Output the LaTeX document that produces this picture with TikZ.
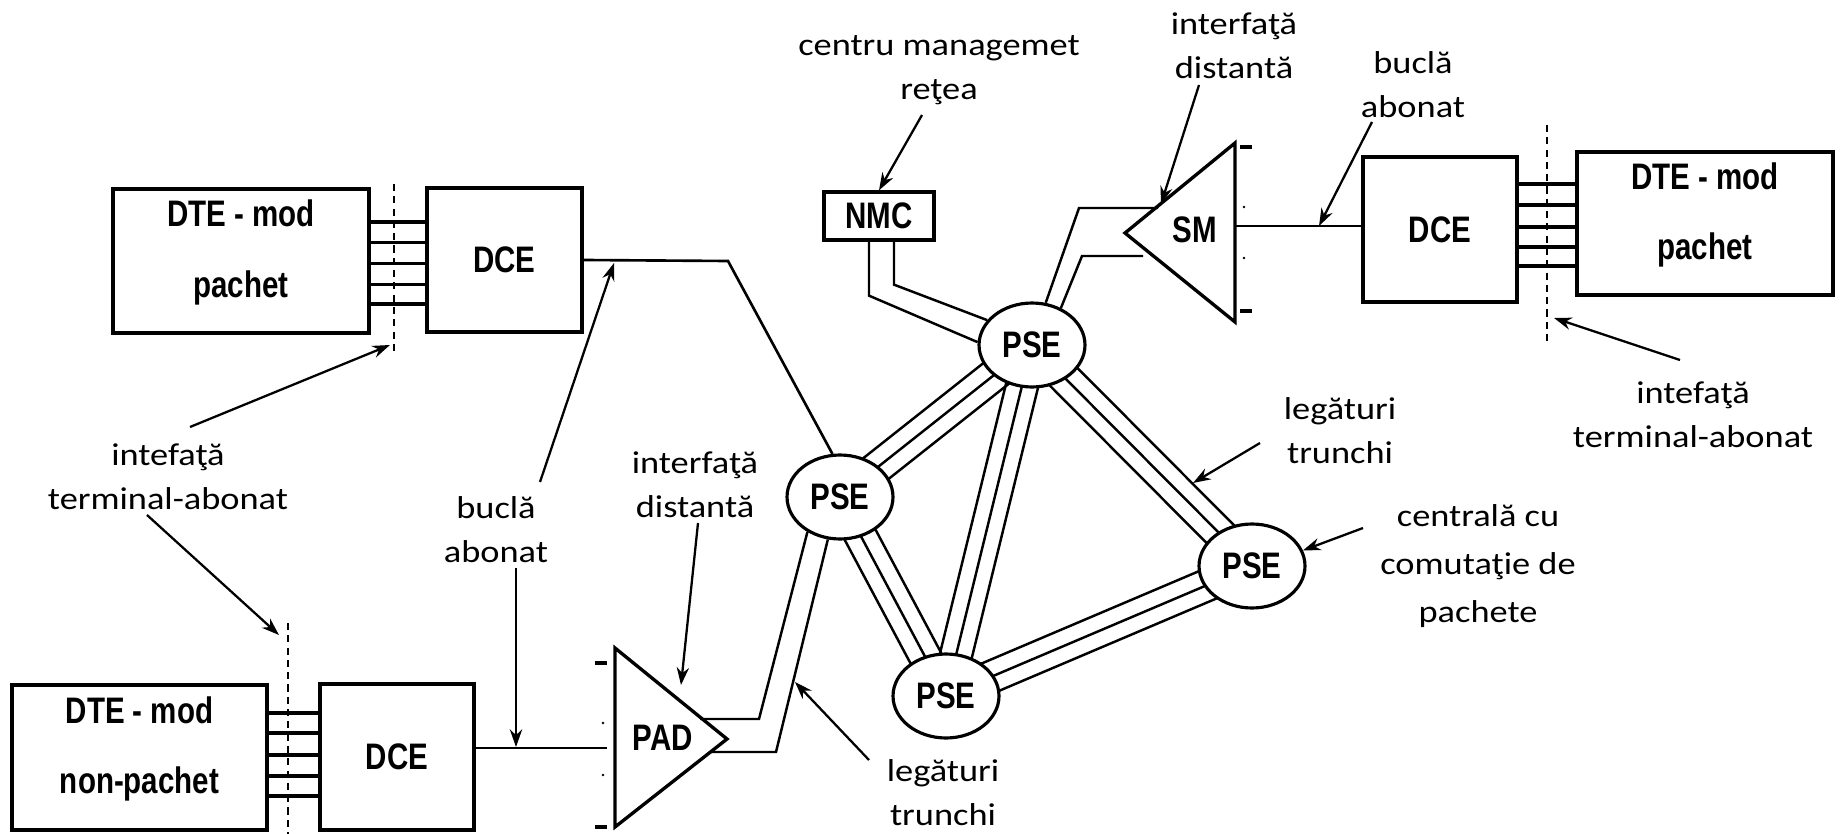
\documentclass[tikz,border=0pt]{standalone}
\usepackage{fontspec}
\setmainfont{Carlito}[FakeStretch=1.15]
\newfontfamily\unitfont{Liberation Sans}[FakeStretch=0.8]
\usetikzlibrary{shapes.geometric,arrows.meta,calc,backgrounds}

\tikzset{
  unit/.style={draw, line width=1.9pt, align=center, inner sep=0pt,
    font=\unitfont\bfseries\fontsize{21}{40}\selectfont},
  pse/.style={ellipse, draw, fill=white, line width=1.8pt, inner sep=0pt,
    minimum width=2.12cm, minimum height=1.68cm,
    font=\unitfont\bfseries\fontsize{21}{25}\selectfont},
  tag/.style={inner sep=0pt, font=\unitfont\bfseries\fontsize{21}{25}\selectfont},
  note/.style={align=center, inner sep=0pt, font=\fontsize{18}{25}\selectfont},
  ptr/.style={line width=1.3pt, -{Stealth[length=10pt,width=7pt]}},
  wire/.style={line width=1.5pt},
  bus/.style={line width=1.8pt},
  trunk/.style={line width=1.4pt},
  cut/.style={line width=0.9pt, dash pattern=on 4pt off 3pt},
  mux/.style={draw, line width=1.9pt},
}

\begin{document}
\begin{tikzpicture}[x=0.02cm, y=-0.02cm]
\useasboundingbox (0,0) rectangle (1841,834);

% terminals and modems
\node[unit, minimum width=5.12cm, minimum height=2.88cm, text depth=0.5cm] (dteA) at (241,261) {DTE - mod\\pachet};
\node[unit, minimum width=3.10cm, minimum height=2.88cm] (dceA) at (504.5,260) {DCE};
\node[unit, minimum width=5.12cm, minimum height=2.86cm, text depth=0.5cm] (dteB) at (1705,223.5) {DTE - mod\\pachet};
\node[unit, minimum width=3.08cm, minimum height=2.90cm] (dceB) at (1440,229.5) {DCE};
\node[unit, minimum width=5.10cm, minimum height=2.90cm, text depth=0.5cm] (dteC) at (139.5,757.5) {DTE - mod\\non-pachet};
\node[unit, minimum width=3.08cm, minimum height=2.92cm] (dceC) at (397,757) {DCE};
\node[unit, minimum width=2.20cm, minimum height=0.96cm] (nmc) at (879,216) {NMC};

% switching exchanges
\node[pse] (pseT) at (1032,345) {PSE};
\node[pse] (pseL) at (840,497) {PSE};
\node[pse] (pseB) at (946,696) {PSE};
\node[pse] (pseR) at (1252,566) {PSE};

% SM and PAD
\coordinate (smA) at (1235,143);
\coordinate (smB) at (1235,322);
\coordinate (smC) at (1125,233);
\draw[mux] (smA) -- (smB) -- (smC) -- cycle;
\node[tag] (sm) at (1195,230) {SM};
\draw[bus] (1240,147) -- (1252,147);
\draw[bus] (1240,311) -- (1252,311);
\fill (1244,207) circle (0.8pt);
\fill (1244,258) circle (0.8pt);

\coordinate (padA) at (615,648);
\coordinate (padB) at (615,827);
\coordinate (padC) at (727,739);
\draw[mux] (padA) -- (padB) -- (padC) -- cycle;
\node[tag] (pad) at (663,738) {PAD};
\draw[bus] (595,663) -- (607,663);
\draw[bus] (595,827) -- (607,827);
\fill (603,723) circle (0.8pt);
\fill (603,775) circle (0.8pt);

% DTE--DCE interfaces
\foreach \s in {0.78,0.37,-0.05,-0.47,-0.86}
  \draw[bus] ([yshift=\s cm]dteA.east) coordinate (w) -- (w -| dceA.west);
\foreach \s in {0.79,0.37,-0.07,-0.47,-0.85}
  \draw[bus] ([yshift=\s cm]dteB.west) coordinate (w) -- (w -| dceB.east);
\foreach \s in {0.89,0.49,0.05,-0.37,-0.77}
  \draw[bus] ([yshift=\s cm]dteC.east) coordinate (w) -- (w -| dceC.west);
\draw[cut] (394,184) -- (394,356);
\draw[cut] (1547,125) -- (1547,342);
\draw[cut] (288,623) -- (288,834);

% subscriber loops
\coordinate (bendA) at (728,261);
\draw[wire] (dceA.east) -- (bendA) -- (pseL.100);
\coordinate (smP) at (1236,226);
\draw[wire] (smP) -- (smP -| dceB.west);
\coordinate (padP) at (607,748);
\draw[wire] (padP -| dceC.east) -- (padP);

% double links
\draw[trunk] ([xshift=-0.2cm]nmc.south) -- ++(0,54) -- (pseT.177);
\draw[trunk] ([xshift=0.3cm]nmc.south) -- ++(0,43) -- (pseT.151);
\coordinate (smU) at (1158,208);
\coordinate (smL) at (1143,256);
\draw[trunk] (pseT.72) -- (1079,208) -- (smU);
\draw[trunk] (pseT.52) -- (1082,256) -- (smL);
\coordinate (padU) at (700,719);
\coordinate (padL) at (711,752);
\draw[trunk] (padU) -- (759,719) -- (pseL.-133);
\draw[trunk] (padL) -- (776,752) -- (pseL.-106);

% trunk links
\begin{scope}[on background layer]
\foreach \a/\b in {pseL/pseT, pseL/pseB, pseT/pseB, pseT/pseR, pseB/pseR}
  \foreach \d in {-0.32cm,0cm,0.32cm}
    \draw[trunk] ($(\a)!\d!90:(\b)$) -- ($(\b)!\d!-90:(\a)$);
\end{scope}

% labels
\node[note] (lblNmc) at (939,70) {centru managemet\\reţea};
\node[note] (lblSmIf) at (1234,46) {interfaţă\\distantă};
\node[note] (lblBuclaB) at (1413,85) {buclă\\abonat};
\node[note] (lblIfB) at (1693,415) {intefaţă\\terminal-abonat};
\node[note] (lblTrR) at (1340,431) {legături\\trunchi};
\node[note, font=\fontsize{18}{27.5}\selectfont] (lblCentr) at (1478,566) {centrală cu\\comutaţie de\\pachete};
\node[note] (lblIfA) at (168,477) {intefaţă\\terminal-abonat};
\node[note] (lblBuclaA) at (496,530) {buclă\\abonat};
\node[note] (lblPadIf) at (695,485) {interfaţă\\distantă};
\node[note] (lblTrB) at (943,793) {legături\\trunchi};

% pointers
\draw[ptr] (922,115) -- (nmc.north);
\draw[ptr] (1199,85) -- (1161,204);
\draw[ptr] (1372,122) -- (1319,226);
\draw[ptr] (1680,360) -- (1554,318);
\draw[ptr] (1260,443) -- (1193,483);
\draw[ptr] (1363,528) -- (pseR.17);
\draw[ptr] (190,427) -- (390,345);
\draw[ptr] (147,515) -- (279,635);
\draw[ptr] (540,482) -- (614,263);
\draw[ptr] (516,568) -- (516,747);
\draw[ptr] (698,523) -- (681,685);
\draw[ptr] (869,760) -- (795,682);
\end{tikzpicture}
\end{document}
